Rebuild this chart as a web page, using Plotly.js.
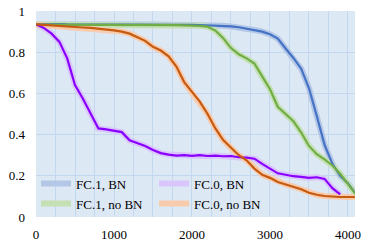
<!DOCTYPE html>
<html>
<head>
<meta charset="utf-8">
<script src="https://cdn.plot.ly/plotly-3.0.1.min.js"></script>
<style>html,body{margin:0;padding:0;background:#fff;}#chart{width:374px;height:242px;}</style>
</head>
<body>
<div id="chart"></div>
<script>
const steps = [0,100,200,300,400,500,600,700,800,900,1000,1100,1200,1300,1400,1500,1600,1700,1800,1900,2000,2100,2200,2300,2400,2500,2600,2700,2800,2900,3000,3100,3200,3300,3400,3500,3600,3700,3800,3900,4000,4100];

const fc1BN = [0.935,0.936,0.935,0.936,0.935,0.935,0.936,0.935,0.935,0.936,0.935,0.935,0.935,0.934,0.935,0.934,0.934,0.934,0.933,0.934,0.933,0.932,0.931,0.93,0.928,0.925,0.921,0.915,0.908,0.9,0.887,0.866,0.818,0.772,0.72,0.625,0.49,0.35,0.258,0.2,0.163,0.112];
const fc1noBN = [0.934,0.934,0.933,0.934,0.933,0.933,0.934,0.933,0.933,0.933,0.932,0.933,0.932,0.932,0.932,0.931,0.932,0.931,0.931,0.93,0.93,0.928,0.924,0.905,0.868,0.82,0.79,0.77,0.745,0.68,0.62,0.535,0.5,0.465,0.41,0.345,0.305,0.28,0.25,0.21,0.16,0.11];
const fc0BN = [0.935,0.918,0.89,0.85,0.77,0.64,0.575,0.505,0.43,0.425,0.42,0.412,0.372,0.36,0.345,0.325,0.31,0.303,0.298,0.3,0.297,0.3,0.296,0.298,0.295,0.296,0.29,0.288,0.283,0.258,0.235,0.212,0.205,0.198,0.195,0.19,0.193,0.185,0.14,0.11,null,null];
const fc0noBN = [0.935,0.932,0.93,0.927,0.925,0.922,0.92,0.918,0.915,0.91,0.906,0.9,0.89,0.873,0.855,0.826,0.808,0.78,0.73,0.655,0.605,0.56,0.5,0.43,0.373,0.335,0.3,0.275,0.235,0.205,0.19,0.17,0.158,0.148,0.135,0.118,0.108,0.102,0.098,0.097,0.097,0.097];

const seriesNames = ["FC.1, BN","FC.1, no BN","FC.0, BN","FC.0, no BN"];
const seriesData = [fc1BN, fc1noBN, fc0BN, fc0noBN];
const lightColors = ["#b4c7e7","#c5e0b4","#d9c6fa","#f8cbad"];
const darkColors = ["#4472c4","#70ad47","#8a00ff","#c55a11"];
const legendIds = ["legend","legend","legend2","legend2"];

const traces = [];
seriesData.forEach((ys,i)=>{
  traces.push({x:steps,y:ys,type:'scatter',mode:'lines',name:seriesNames[i],
    line:{color:lightColors[i],width:6},legend:legendIds[i],showlegend:true,hoverinfo:'skip'});
});
seriesData.forEach((ys,i)=>{
  traces.push({x:steps,y:ys,type:'scatter',mode:'lines',name:seriesNames[i]+' core',
    line:{color:darkColors[i],width:2.2},showlegend:false});
});

const font = {family:'Liberation Serif',size:13,color:'#000'};
const grid = '#c3d8ee';
const layout = {
  width:374,height:242,
  margin:{l:36,r:19,t:11,b:25,pad:0},
  paper_bgcolor:'#ffffff',plot_bgcolor:'#dde8f5',
  font:font,
  showlegend:true,
  xaxis:{range:[0,4090],tickmode:'linear',tick0:0,dtick:1000,showgrid:true,gridcolor:grid,gridwidth:1,
    minor:{dtick:250,showgrid:true,gridcolor:grid,gridwidth:1},
    zeroline:false,showline:false,ticks:'',ticklabelstandoff:8,tickfont:font},
  yaxis:{range:[0,1],tickmode:'array',tickvals:[0,0.2,0.4,0.6,0.8,1],ticktext:['0','0.2','0.4','0.6','0.8','1'],
    showgrid:true,gridcolor:grid,gridwidth:1,zeroline:false,showline:false,ticks:'',ticklabelstandoff:10,tickfont:font},
  legend:{x:0.0,y:0.235,xanchor:'left',yanchor:'top',bgcolor:'rgba(0,0,0,0)',borderwidth:0,font:font,tracegroupgap:0,itemwidth:30},
  legend2:{x:0.37,y:0.235,xanchor:'left',yanchor:'top',bgcolor:'rgba(0,0,0,0)',borderwidth:0,font:font,tracegroupgap:0,itemwidth:30}
};
Plotly.newPlot('chart',traces,layout,{displayModeBar:false,staticPlot:true});
</script>
</body>
</html>
